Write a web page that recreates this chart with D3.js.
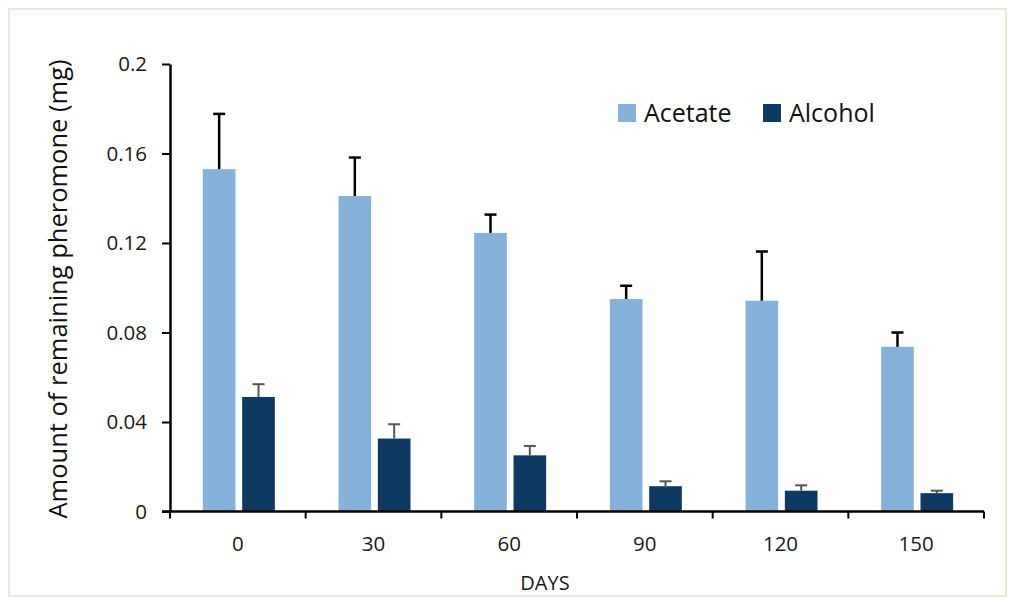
<!DOCTYPE html>
<html>
<head>
<meta charset="utf-8">
<script src="https://cdn.jsdelivr.net/npm/d3@7"></script>
<style>
  html, body { margin: 0; padding: 0; background: #fff; }
  svg { display: block; }
</style>
</head>
<body>
<div id="chart"></div>
<script>
// Data
const days = ['0', '30', '60', '90', '120', '150'];
const seriesNames = ['Acetate', 'Alcohol'];
const acetate = [0.153, 0.141, 0.1245, 0.095, 0.0942, 0.0736];
const acetateErr = [0.0247, 0.0172, 0.0082, 0.0059, 0.022, 0.0064];
const alcohol = [0.0512, 0.0326, 0.0251, 0.0113, 0.0093, 0.0082];
const alcoholErr = [0.0057, 0.0064, 0.0042, 0.0022, 0.0024, 0.0011];
const yTicks = [0, 0.04, 0.08, 0.12, 0.16, 0.2];

const W = 1019, H = 607;
const margin = { top: 64, right: 35, bottom: 95, left: 170 };
const plotW = 984 - margin.left;
const plotH = 511.5 - margin.top;
const font = '"Open Sans", "Noto Sans", sans-serif';

const colors = { Acetate: '#86b2d9', Alcohol: '#0e3a61' };
const errColors = { Acetate: '#000', Alcohol: '#555' };

const svg = d3.select('#chart').append('svg')
  .attr('width', W)
  .attr('height', H);

// light frame around the figure
svg.append('rect')
  .attr('x', 9).attr('y', 9)
  .attr('width', 997).attr('height', 587)
  .attr('fill', '#fff')
  .attr('stroke', '#ebe7da')
  .attr('stroke-width', 2);

const g = svg.append('g')
  .attr('transform', `translate(${margin.left},${margin.top})`);

const x0 = d3.scaleBand()
  .domain(days)
  .range([0, plotW])
  .padding(0);

const bw = x0.bandwidth();
const x1 = d3.scaleBand()
  .domain(seriesNames)
  .range([bw / 2 - 35, bw / 2 + 37])
  .paddingInner(0.17);

const y = d3.scaleLinear()
  .domain([0, 0.2])
  .range([plotH, 0]);

const rows = days.map((d, i) => ({
  day: d,
  values: [
    { key: 'Acetate', value: acetate[i], err: acetateErr[i] },
    { key: 'Alcohol', value: alcohol[i], err: alcoholErr[i] }
  ]
}));

// bars
const groups = g.selectAll('.bar-group')
  .data(rows)
  .enter().append('g')
  .attr('class', 'bar-group')
  .attr('transform', d => `translate(${x0(d.day)},0)`);

groups.selectAll('.bar')
  .data(d => d.values)
  .enter().append('rect')
  .attr('class', 'bar')
  .attr('x', d => x1(d.key))
  .attr('y', d => y(d.value))
  .attr('width', x1.bandwidth())
  .attr('height', d => plotH - y(d.value))
  .attr('fill', d => colors[d.key]);

// error bars (upper only)
const err = groups.selectAll('.err')
  .data(d => d.values)
  .enter().append('g')
  .attr('class', 'err')
  .attr('stroke', d => errColors[d.key])
  .attr('stroke-width', d => d.key === 'Acetate' ? 2.5 : 2);

err.append('line')
  .attr('x1', d => x1(d.key) + x1.bandwidth() / 2)
  .attr('x2', d => x1(d.key) + x1.bandwidth() / 2)
  .attr('y1', d => y(d.value))
  .attr('y2', d => y(d.value + d.err));

err.append('line')
  .attr('x1', d => x1(d.key) + x1.bandwidth() / 2 - 6)
  .attr('x2', d => x1(d.key) + x1.bandwidth() / 2 + 6)
  .attr('y1', d => y(d.value + d.err))
  .attr('y2', d => y(d.value + d.err));

// Y axis
const yAxis = g.append('g')
  .attr('class', 'y-axis')
  .call(d3.axisLeft(y)
    .tickValues(yTicks)
    .tickSize(8)
    .tickSizeOuter(0)
    .tickPadding(15)
    .tickFormat(d => String(+d.toFixed(2))));

yAxis.select('.domain').attr('stroke', '#000').attr('stroke-width', 2.5);
yAxis.selectAll('.tick line').attr('stroke', '#000').attr('stroke-width', 2);
yAxis.selectAll('text')
  .style('font-family', font)
  .style('font-size', '20.5px')
  .attr('fill', '#1a1a1a');

// X axis: line, boundary ticks, centred labels
const xAxis = g.append('g')
  .attr('class', 'x-axis')
  .attr('transform', `translate(0,${plotH})`);

xAxis.append('line')
  .attr('x1', -8).attr('x2', plotW)
  .attr('y1', 0).attr('y2', 0)
  .attr('stroke', '#000')
  .attr('stroke-width', 2.5);

const bounds = days.map(d => x0(d)).concat([plotW]);
xAxis.selectAll('.xtick')
  .data(bounds)
  .enter().append('line')
  .attr('class', 'xtick')
  .attr('x1', d => d).attr('x2', d => d)
  .attr('y1', 0).attr('y2', 7)
  .attr('stroke', '#000')
  .attr('stroke-width', 2);

xAxis.selectAll('.xlabel')
  .data(days)
  .enter().append('text')
  .attr('class', 'xlabel')
  .attr('x', d => x0(d) + bw / 2)
  .attr('y', 39)
  .attr('text-anchor', 'middle')
  .style('font-family', font)
  .style('font-size', '20.5px')
  .attr('fill', '#1a1a1a')
  .text(d => d);

// axis titles
svg.append('text')
  .attr('x', 545)
  .attr('y', 590)
  .attr('text-anchor', 'middle')
  .style('font-family', font)
  .style('font-size', '20px')
  .attr('fill', '#1a1a1a')
  .text('DAYS');

svg.append('text')
  .attr('transform', 'translate(67,289) rotate(-90)')
  .attr('text-anchor', 'middle')
  .style('font-family', font)
  .style('font-size', '25.5px')
  .attr('fill', '#111')
  .text('Amount of remaining pheromone (mg)');

// legend
const legend = svg.append('g')
  .attr('class', 'legend')
  .attr('transform', 'translate(618,104)');

const legendItems = legend.selectAll('.legend-item')
  .data(seriesNames)
  .enter().append('g')
  .attr('class', 'legend-item')
  .attr('transform', (d, i) => `translate(${i * 145},0)`);

legendItems.append('rect')
  .attr('width', 18)
  .attr('height', 18)
  .attr('fill', d => colors[d]);

legendItems.append('text')
  .attr('x', 26)
  .attr('y', 18)
  .style('font-family', font)
  .style('font-size', '25px')
  .attr('fill', '#111')
  .text(d => d);
</script>
</body>
</html>
